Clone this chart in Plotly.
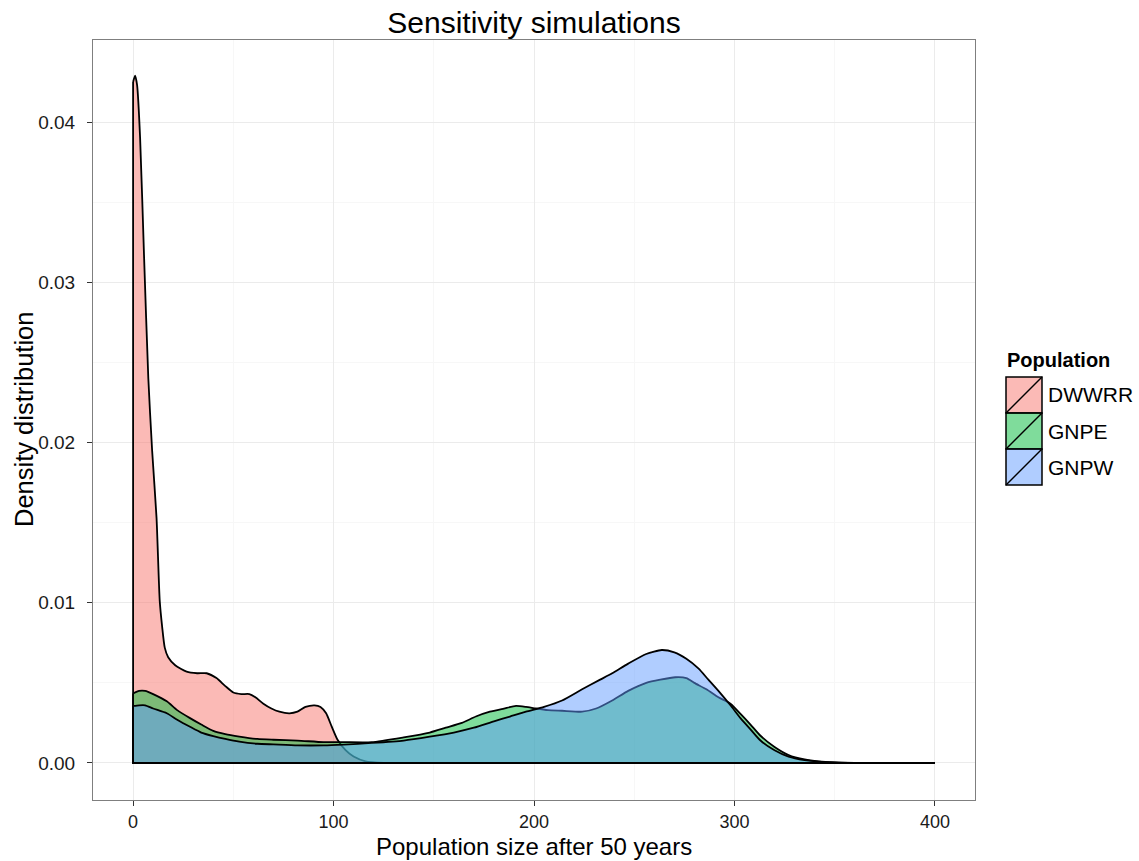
import plotly.graph_objects as go

# ---------------- data ----------------
populations = ["DWWRR", "GNPE", "GNPW"]

dwwrr_x = [0, 1, 2, 3.5, 5.5, 7.6, 9.5, 11.7, 13.3, 14.5, 15.8, 17.5, 21, 26.7, 32, 36.7,
           41.6, 46, 50, 54, 58, 61, 65, 69, 73, 78, 82, 86, 90.5, 93.5, 96.3, 99, 102,
           106, 110, 116, 125]
dwwrr_y = [0.0425, 0.0429, 0.0423, 0.039, 0.0315, 0.024, 0.0195, 0.0153, 0.0101, 0.0085,
           0.0072, 0.0066, 0.0061, 0.0057, 0.0056, 0.0056, 0.0053, 0.0048, 0.0044, 0.0043,
           0.0043, 0.0041, 0.0037, 0.0034, 0.0032, 0.0031, 0.0032, 0.0035, 0.0036, 0.0035,
           0.0031, 0.0023, 0.00145, 0.0008, 0.0004, 0.0001, 0.0]

gnpe_x = [0, 3, 6, 10, 16.8, 22, 28.4, 34, 40, 46, 53, 62, 70, 82, 95, 105, 119, 135, 148,
          156, 164, 171, 178, 185, 191, 196, 201, 207, 214, 224, 231, 239, 247, 256, 263,
          270.5, 276, 280, 286, 292, 298, 303.5, 308, 313, 320, 327, 335, 342, 350, 360,
          375, 400]
gnpe_y = [0.00434, 0.0045, 0.0045, 0.0043, 0.00385, 0.0033, 0.0028, 0.0024, 0.0020, 0.0018,
          0.00165, 0.0015, 0.00145, 0.0014, 0.0013, 0.0013, 0.0013, 0.0016, 0.0019, 0.0022,
          0.0025, 0.0029, 0.0032, 0.0034, 0.00356, 0.0035, 0.0034, 0.0033, 0.00326, 0.0032,
          0.0034, 0.0039, 0.0045, 0.0050, 0.0052, 0.00535, 0.0053, 0.0050, 0.0046, 0.0041,
          0.0037, 0.0030, 0.0024, 0.0017, 0.0010, 0.0005, 0.00022, 0.0001, 0.00004, 0.00001,
          0.0, 0.0]

gnpw_x = [0, 3, 6, 10, 16.8, 22, 28.4, 34, 40, 46, 53, 62, 70, 82, 95, 105, 119, 135, 148,
          160, 170, 180, 188, 196, 205, 214, 224, 233, 239, 247, 256, 263.7, 270, 276, 282,
          287, 292, 298, 303, 308, 313, 320, 327, 335, 342, 350, 360, 375, 400]
gnpw_y = [0.00356, 0.0036, 0.0036, 0.0034, 0.0031, 0.0027, 0.00226, 0.0019, 0.00168, 0.0015,
          0.00133, 0.0012, 0.00116, 0.0011, 0.0011, 0.00115, 0.00125, 0.0014, 0.00164, 0.0019,
          0.0022, 0.0026, 0.0029, 0.0032, 0.0035, 0.0039, 0.0046, 0.0052, 0.0056, 0.0062,
          0.0068, 0.00705, 0.0069, 0.0065, 0.0059, 0.0052, 0.0045, 0.0036, 0.0028, 0.0021,
          0.0014, 0.0008, 0.0004, 0.00018, 0.00008, 0.00003, 0.00001, 0.0, 0.0]

x_ticks = [0, 100, 200, 300, 400]
y_ticks = [0.00, 0.01, 0.02, 0.03, 0.04]
y_tick_labels = ["0.00", "0.01", "0.02", "0.03", "0.04"]

fills = ["rgba(248,118,109,0.5)", "rgba(0,186,56,0.5)", "rgba(97,156,255,0.5)"]

# ---------------- figure ----------------
W, H = 1139, 861
L, R, T, B = 93, 975, 40, 800

fig = go.Figure()
series = [(dwwrr_x, dwwrr_y), (gnpe_x, gnpe_y), (gnpw_x, gnpw_y)]
for name, (xs, ys), fc in zip(populations, series, fills):
    # smooth density curve, filled down to zero
    fig.add_trace(go.Scatter(
        x=xs, y=ys, mode="lines", fill="tozeroy", fillcolor=fc, name=name,
        line=dict(color="black", width=1.8, shape="spline", smoothing=0.6),
        showlegend=False, hoverinfo="skip"))
    # polygon outline: left vertical edge and baseline
    fig.add_trace(go.Scatter(
        x=[xs[-1], xs[0], xs[0]], y=[0, 0, ys[0]], mode="lines",
        line=dict(color="black", width=1.8), showlegend=False, hoverinfo="skip"))

FONT = "Liberation Sans, Arial, sans-serif"

fig.update_layout(
    width=W, height=H, autosize=False,
    margin=dict(l=L, r=W - R, t=T, b=H - B),
    paper_bgcolor="white", plot_bgcolor="white",
    font=dict(family=FONT, color="black"),
    title=dict(text="Sensitivity simulations", x=(L + R) / 2 / W, xanchor="center",
               y=1 - 22 / H, yanchor="middle", font=dict(size=30, color="black")),
)

fig.update_xaxes(
    range=[-20, 420], tickmode="array", tickvals=x_ticks,
    ticktext=[str(v) for v in x_ticks],
    ticks="outside", ticklen=5, tickcolor="#333333", tickwidth=1,
    tickfont=dict(size=18, color="#1a1a1a", family=FONT),
    showgrid=True, gridcolor="#EBEBEB", gridwidth=1,
    minor=dict(tickmode="array", tickvals=[50, 150, 250, 350], showgrid=True,
               gridcolor="#F7F7F7", ticks=""),
    showline=True, mirror=True, linecolor="#7F7F7F", linewidth=1,
    zeroline=False,
)
fig.update_yaxes(
    range=[-0.00231, 0.04512], tickmode="array", tickvals=y_ticks, ticktext=y_tick_labels,
    ticks="outside", ticklen=5, tickcolor="#333333", tickwidth=1,
    tickfont=dict(size=19, color="#1a1a1a", family=FONT),
    ticklabelstandoff=8,
    showgrid=True, gridcolor="#EBEBEB", gridwidth=1,
    minor=dict(tickmode="array", tickvals=[0.005, 0.015, 0.025, 0.035], showgrid=True,
               gridcolor="#F7F7F7", ticks=""),
    showline=True, mirror=True, linecolor="#7F7F7F", linewidth=1,
    zeroline=False,
)

def px2paper_x(px):
    return (px - L) / (R - L)

def px2paper_y(py):
    return (B - py) / (B - T)

annotations = [
    dict(text="Population size after 50 years", x=0.5, y=px2paper_y(846.5),
         xref="paper", yref="paper", showarrow=False, xanchor="center", yanchor="middle",
         font=dict(size=24, color="black", family=FONT)),
    dict(text="Density distribution", x=px2paper_x(24), y=px2paper_y(420),
         xref="paper", yref="paper", showarrow=False, xanchor="center", yanchor="middle",
         textangle=-90, font=dict(size=25.5, color="black", family=FONT)),
    dict(text="<b>Population</b>", x=px2paper_x(1005), y=px2paper_y(360),
         xref="paper", yref="paper", showarrow=False, xanchor="left", yanchor="middle",
         font=dict(size=20, color="black", family=FONT)),
]

shapes = []
key_x0, key_x1 = 1006, 1042
key_tops = [377, 413, 449]
key_h = 36
for name, fc, top in zip(populations, fills, key_tops):
    x0, x1 = px2paper_x(key_x0), px2paper_x(key_x1)
    y0, y1 = px2paper_y(top + key_h), px2paper_y(top)
    shapes.append(dict(type="rect", xref="paper", yref="paper", x0=x0, x1=x1, y0=y0, y1=y1,
                       fillcolor=fc, line=dict(color="black", width=1.5), layer="above"))
    shapes.append(dict(type="line", xref="paper", yref="paper", x0=x0, x1=x1, y0=y0, y1=y1,
                       line=dict(color="black", width=1.5), layer="above"))
    annotations.append(dict(text=name, x=px2paper_x(1046), y=px2paper_y(top + key_h / 2),
                            xref="paper", yref="paper", showarrow=False, xanchor="left",
                            yanchor="middle", font=dict(size=21, color="black", family=FONT)))

fig.update_layout(annotations=annotations, shapes=shapes)

fig.write_html("out.html")
